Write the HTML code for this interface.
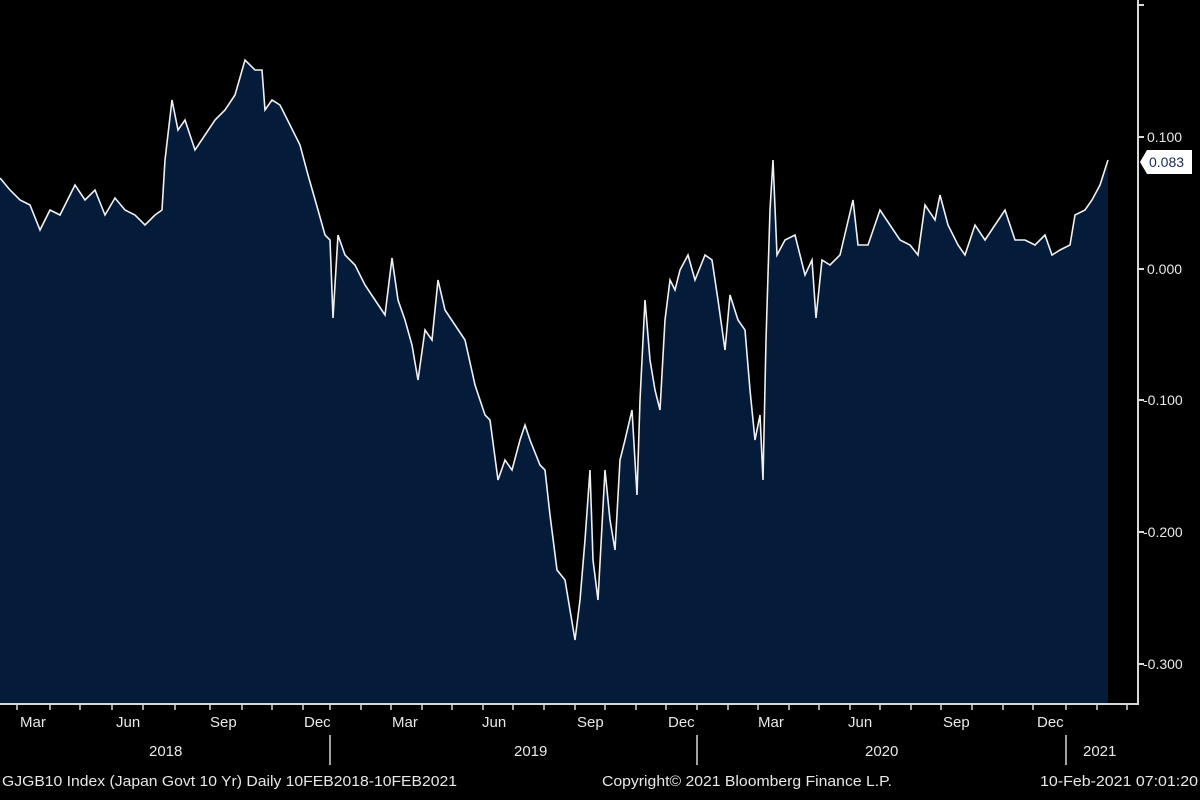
<!DOCTYPE html>
<html><head><meta charset="utf-8"><style>
html,body{margin:0;padding:0;background:#000;width:1200px;height:800px;overflow:hidden}
svg{display:block}
text{font-family:"Liberation Sans",sans-serif;fill:#e8e8e8}
</style></head><body>
<svg width="1200" height="800" viewBox="0 0 1200 800">
<rect width="1200" height="800" fill="#000"/>
<polygon fill="#041c3a" points="0,703 0,178 10,190 20,200 30,205 40,230 50,210 60,215 75,185 85,200 95,190 105,215 115,198 125,210 135,215 145,225 155,215 162,210 165,160 172,100 178,130 185,120 195,150 205,135 215,120 225,110 235,95 245,60 255,70 262,70 265,110 272,100 280,105 290,125 300,145 308,175 318,210 325,235 330,240 333,318 338,235 345,255 355,265 365,285 375,300 385,315 392,258 398,300 405,320 412,345 418,380 425,330 432,340 438,280 445,310 455,325 465,340 475,385 485,415 490,420 498,480 505,460 512,470 520,440 525,425 530,440 540,465 545,470 550,515 557,570 565,580 570,610 575,640 580,600 585,540 590,470 593,560 598,600 605,470 610,520 615,550 620,460 625,440 632,410 637,495 640,400 645,300 650,360 655,390 660,410 665,320 670,280 675,290 680,270 688,255 695,280 705,255 712,260 718,300 725,350 730,295 738,320 745,330 750,390 755,440 760,415 763,480 766,340 770,210 773,160 777,255 785,240 795,235 805,275 812,260 816,318 822,260 830,265 840,255 853,200 858,245 868,245 880,210 890,225 900,240 910,245 918,255 925,205 935,220 940,195 948,225 958,245 965,255 975,225 985,240 995,225 1005,210 1015,240 1025,240 1035,245 1045,235 1052,255 1060,250 1070,245 1075,215 1085,210 1092,200 1100,185 1108,160 1108,703"/>
<polyline fill="none" stroke="#f0f0f0" stroke-width="1.6" points="0,178 10,190 20,200 30,205 40,230 50,210 60,215 75,185 85,200 95,190 105,215 115,198 125,210 135,215 145,225 155,215 162,210 165,160 172,100 178,130 185,120 195,150 205,135 215,120 225,110 235,95 245,60 255,70 262,70 265,110 272,100 280,105 290,125 300,145 308,175 318,210 325,235 330,240 333,318 338,235 345,255 355,265 365,285 375,300 385,315 392,258 398,300 405,320 412,345 418,380 425,330 432,340 438,280 445,310 455,325 465,340 475,385 485,415 490,420 498,480 505,460 512,470 520,440 525,425 530,440 540,465 545,470 550,515 557,570 565,580 570,610 575,640 580,600 585,540 590,470 593,560 598,600 605,470 610,520 615,550 620,460 625,440 632,410 637,495 640,400 645,300 650,360 655,390 660,410 665,320 670,280 675,290 680,270 688,255 695,280 705,255 712,260 718,300 725,350 730,295 738,320 745,330 750,390 755,440 760,415 763,480 766,340 770,210 773,160 777,255 785,240 795,235 805,275 812,260 816,318 822,260 830,265 840,255 853,200 858,245 868,245 880,210 890,225 900,240 910,245 918,255 925,205 935,220 940,195 948,225 958,245 965,255 975,225 985,240 995,225 1005,210 1015,240 1025,240 1035,245 1045,235 1052,255 1060,250 1070,245 1075,215 1085,210 1092,200 1100,185 1108,160"/>
<g stroke="#d8d8d8" stroke-width="2">
<line x1="0" y1="704" x2="1139" y2="704"/>
<line x1="1138" y1="0" x2="1138" y2="704"/>
</g>
<g stroke="#d8d8d8" stroke-width="2">
<line x1="1138" y1="5" x2="1144" y2="5"/>
<line x1="1138" y1="137" x2="1144" y2="137"/>
<line x1="1138" y1="269" x2="1144" y2="269"/>
<line x1="1138" y1="400" x2="1144" y2="400"/>
<line x1="1138" y1="532" x2="1144" y2="532"/>
<line x1="1138" y1="664" x2="1144" y2="664"/>
</g>
<g font-size="14">
<text x="1147" y="142">0.100</text>
<text x="1147" y="274">0.000</text>
<text x="1143" y="405">-0.100</text>
<text x="1143" y="537">-0.200</text>
<text x="1143" y="669">-0.300</text>
</g>
<polygon points="1140,162 1147,150 1192,150 1192,174 1147,174" fill="#fff"/>
<text x="1149" y="167" font-size="14" style="fill:#1a2a50">0.083</text>
<g stroke="#d8d8d8" stroke-width="1.5" id="ticks">
<line x1="17" y1="704" x2="17" y2="710"/><line x1="50" y1="704" x2="50" y2="710"/><line x1="80" y1="704" x2="80" y2="710"/><line x1="112" y1="704" x2="112" y2="710"/><line x1="143" y1="704" x2="143" y2="710"/><line x1="175" y1="704" x2="175" y2="710"/><line x1="210" y1="704" x2="210" y2="710"/><line x1="242" y1="704" x2="242" y2="710"/><line x1="272" y1="704" x2="272" y2="710"/><line x1="303" y1="704" x2="303" y2="710"/><line x1="330" y1="704" x2="330" y2="710"/><line x1="361" y1="704" x2="361" y2="710"/><line x1="391" y1="704" x2="391" y2="710"/><line x1="422" y1="704" x2="422" y2="710"/><line x1="452" y1="704" x2="452" y2="710"/><line x1="483" y1="704" x2="483" y2="710"/><line x1="513" y1="704" x2="513" y2="710"/><line x1="544" y1="704" x2="544" y2="710"/><line x1="575" y1="704" x2="575" y2="710"/><line x1="605" y1="704" x2="605" y2="710"/><line x1="636" y1="704" x2="636" y2="710"/><line x1="666" y1="704" x2="666" y2="710"/><line x1="697" y1="704" x2="697" y2="710"/><line x1="728" y1="704" x2="728" y2="710"/><line x1="758" y1="704" x2="758" y2="710"/><line x1="789" y1="704" x2="789" y2="710"/><line x1="819" y1="704" x2="819" y2="710"/><line x1="850" y1="704" x2="850" y2="710"/><line x1="880" y1="704" x2="880" y2="710"/><line x1="911" y1="704" x2="911" y2="710"/><line x1="941" y1="704" x2="941" y2="710"/><line x1="972" y1="704" x2="972" y2="710"/><line x1="1003" y1="704" x2="1003" y2="710"/><line x1="1033" y1="704" x2="1033" y2="710"/><line x1="1066" y1="704" x2="1066" y2="710"/><line x1="1097" y1="704" x2="1097" y2="710"/><line x1="1127" y1="704" x2="1127" y2="710"/>
<line x1="330" y1="735" x2="330" y2="765"/><line x1="697" y1="735" x2="697" y2="765"/><line x1="1066" y1="735" x2="1066" y2="765"/>
</g>
<g font-size="15">
<text x="20" y="727">Mar</text><text x="116" y="727">Jun</text><text x="210" y="727">Sep</text><text x="304" y="727">Dec</text>
<text x="392" y="727">Mar</text><text x="482" y="727">Jun</text><text x="577" y="727">Sep</text><text x="668" y="727">Dec</text>
<text x="758" y="727">Mar</text><text x="848" y="727">Jun</text><text x="943" y="727">Sep</text><text x="1037" y="727">Dec</text>
<text x="149" y="756">2018</text><text x="514" y="756">2019</text><text x="865" y="756">2020</text><text x="1083" y="756">2021</text>
<text x="2" y="786" textLength="455" lengthAdjust="spacingAndGlyphs">GJGB10 Index (Japan Govt 10 Yr)  Daily 10FEB2018-10FEB2021</text>
<text x="602" y="786" textLength="290" lengthAdjust="spacingAndGlyphs">Copyright© 2021 Bloomberg Finance L.P.</text>
<text x="1040" y="786" textLength="158" lengthAdjust="spacingAndGlyphs">10-Feb-2021 07:01:20</text>
</g>
</svg>
</body></html>
